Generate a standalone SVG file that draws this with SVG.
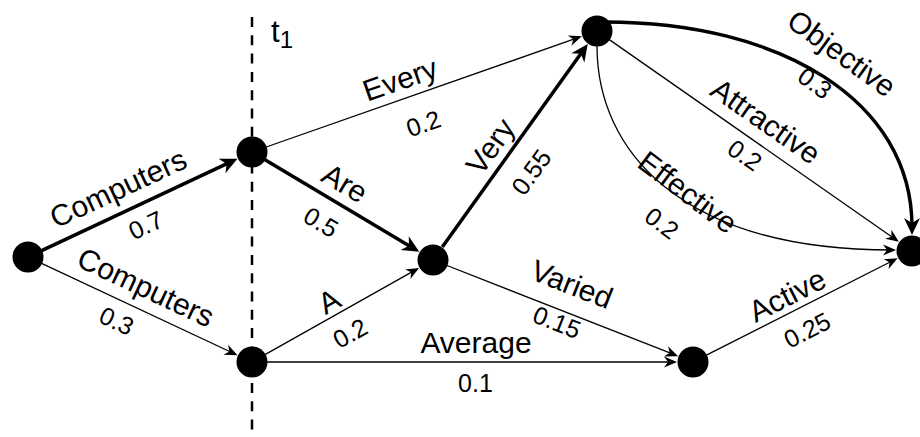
<svg xmlns="http://www.w3.org/2000/svg" width="920" height="437" viewBox="0 0 920 437">
<style>
  .thin{fill:none;stroke:#000;stroke-width:1.3}
  .thick{fill:none;stroke:#000;stroke-width:3.5}
  .node{fill:#000}
  text{font-family:"Liberation Sans",Helvetica,Arial,sans-serif;fill:#000}
  .w{font-size:30px;text-anchor:middle}
  .n{font-size:25px;text-anchor:middle}
</style>
<defs>
  <marker id="aThin" viewBox="-15 -8 17 16" refX="-4" refY="0" markerWidth="17" markerHeight="16" markerUnits="userSpaceOnUse" orient="auto">
    <path d="M0,0 L-13,-5.5 L-9,0 L-13,5.5 Z" fill="#000"/>
  </marker>
  <marker id="aThick" viewBox="-20 -10 22 20" refX="-8" refY="0" markerWidth="22" markerHeight="20" markerUnits="userSpaceOnUse" orient="auto">
    <path d="M0,0 L-17,-8 L-12,0 L-17,8 Z" fill="#000"/>
  </marker>
</defs>
<rect width="920" height="437" fill="#fff"/>
<g id="timeline">
  <line x1="252" y1="17" x2="252" y2="437" stroke="#000" stroke-width="2.5" stroke-dasharray="10 8.3"/>
  <text x="271" y="42" font-size="31">t<tspan font-size="24" dy="6">1</tspan></text>
</g>
<g id="connectors">
  <g id="e-A-B">
    <line class="thick" x1="41.6" y1="250.6" x2="230.2" y2="162.2" marker-end="url(#aThick)"/>
    <text class="w" transform="translate(118,188) rotate(-25.1)" y="10.7">Computers</text>
    <text class="n" transform="translate(145.7,225) rotate(-25.1)" y="9">0.7</text>
  </g>
  <g id="e-A-C">
    <line class="thin" x1="41.6" y1="263.4" x2="233.9" y2="353.5" marker-end="url(#aThin)"/>
    <text class="w" transform="translate(146,287) rotate(25.1)" y="10.7">Computers</text>
    <text class="n" transform="translate(116.7,320.7) rotate(25.1)" y="9">0.3</text>
  </g>
  <g id="e-B-E">
    <line class="thin" x1="266.2" y1="147" x2="578.1" y2="37.6" marker-end="url(#aThin)"/>
    <text class="w" transform="translate(400,79) rotate(-19.3)" y="10.7">Every</text>
    <text class="n" transform="translate(423.3,123.3) rotate(-19.3)" y="9">0.2</text>
  </g>
  <g id="e-B-D">
    <line class="thick" x1="265" y1="159.7" x2="412.4" y2="247.7" marker-end="url(#aThick)"/>
    <text class="w" transform="translate(345,183) rotate(30.8)" y="10.7">Are</text>
    <text class="n" transform="translate(321,222) rotate(30.8)" y="9">0.5</text>
  </g>
  <g id="e-C-D">
    <line class="thin" x1="265" y1="354.6" x2="415.6" y2="269.9" marker-end="url(#aThin)"/>
    <text class="w" transform="translate(329,301) rotate(-29.4)" y="10.7">A</text>
    <text class="n" transform="translate(350,333) rotate(-29.4)" y="9">0.2</text>
  </g>
  <g id="e-C-G">
    <line class="thin" x1="267" y1="362" x2="673" y2="362" marker-end="url(#aThin)"/>
    <text class="w" x="476" y="353">Average</text>
    <text class="n" x="475.5" y="392">0.1</text>
  </g>
  <g id="e-D-E">
    <line class="thick" x1="442.3" y1="247" x2="583.1" y2="50.5" marker-end="url(#aThick)"/>
    <text class="w" transform="translate(490,146) rotate(-54.4)" y="10.7">Very</text>
    <text class="n" transform="translate(531,172) rotate(-54.4)" y="9">0.55</text>
  </g>
  <g id="e-D-G">
    <line class="thin" x1="447" y1="265.5" x2="674.4" y2="354.7" marker-end="url(#aThin)"/>
    <text class="w" transform="translate(572,284) rotate(21.4)" y="10.7">Varied</text>
    <text class="n" transform="translate(557,322) rotate(21.4)" y="9">0.15</text>
  </g>
  <g id="e-G-F">
    <line class="thin" x1="706.4" y1="355.2" x2="894.1" y2="260" marker-end="url(#aThin)"/>
    <text class="w" transform="translate(787,295) rotate(-26.9)" y="10.7">Active</text>
    <text class="n" transform="translate(807,330) rotate(-26.9)" y="9">0.25</text>
  </g>
  <g id="e-E-F-attractive">
    <line class="thin" x1="609.3" y1="39.6" x2="895.6" y2="239.5" marker-end="url(#aThin)"/>
    <text class="w" transform="translate(766,121) rotate(34.9)" y="10.7">Attractive</text>
    <text class="n" transform="translate(745,155) rotate(34.9)" y="9">0.2</text>
  </g>
  <g id="e-E-F-objective">
    <path class="thick" d="M605,22 C780,22 912,100 912,227" marker-end="url(#aThick)"/>
    <text class="w" transform="translate(842,53) rotate(36)" y="10.7">Objective</text>
    <text class="n" transform="translate(815,83) rotate(36)" y="9">0.3</text>
  </g>
  <g id="e-E-F-effective">
    <path class="thin" d="M597,46 C597,150 680,250 892,250" marker-end="url(#aThin)"/>
    <text class="w" transform="translate(688,192) rotate(37)" y="10.7">Effective</text>
    <text class="n" transform="translate(662,223) rotate(37)" y="9">0.2</text>
  </g>
</g>
<g id="nodes">
  <g id="node-A"><circle class="node" cx="28" cy="257" r="15.5"/></g>
  <g id="node-B"><circle class="node" cx="252" cy="152" r="15.5"/></g>
  <g id="node-C"><circle class="node" cx="252" cy="362" r="15.5"/></g>
  <g id="node-D"><circle class="node" cx="433" cy="260" r="15.5"/></g>
  <g id="node-E"><circle class="node" cx="597" cy="31" r="15.5"/></g>
  <g id="node-F"><circle class="node" cx="912" cy="251" r="15.5"/></g>
  <g id="node-G"><circle class="node" cx="693" cy="362" r="15.5"/></g>
</g>
</svg>
